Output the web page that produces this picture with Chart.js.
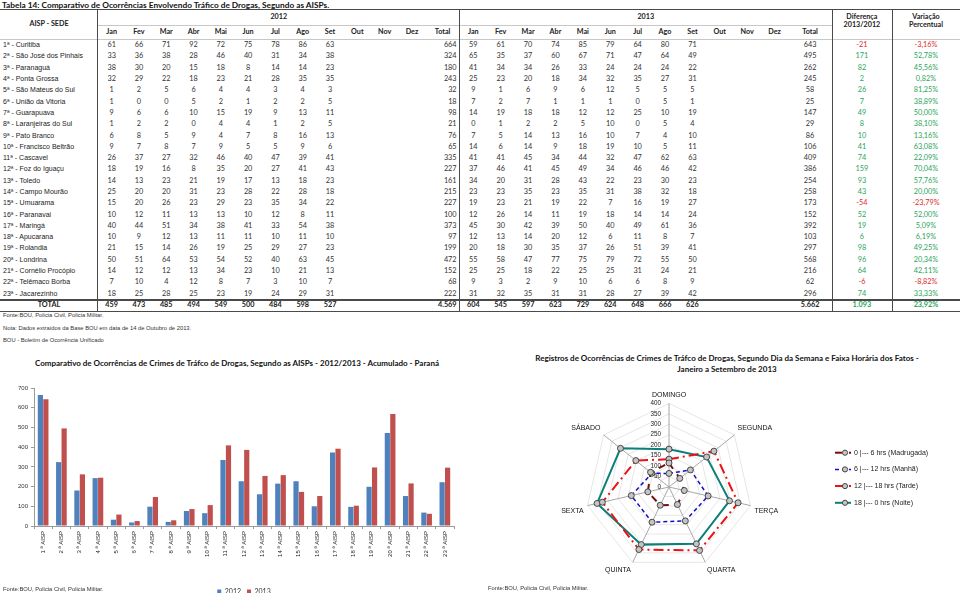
<!DOCTYPE html>
<html>
<head>
<meta charset="utf-8">
<script src="https://cdn.jsdelivr.net/npm/chart.js@4.4.0/dist/chart.umd.min.js"></script>
<style>
  body { margin: 0; width: 960px; height: 593px; overflow: hidden; background: #fff; position: relative; font-family: "Liberation Sans", Arial, sans-serif; color: #222; }
  .abs { position: absolute; }
  .ttl { font-family: Lato, sans-serif; font-weight: bold; font-size: 8px; color: #111; white-space: nowrap; }
  .note { font-size: 5.8px; color: #333; white-space: nowrap; }
  table { position: absolute; left: 0; top: 9px; width: 960px; border-collapse: collapse; table-layout: fixed; }
  td, th { padding: 0; white-space: nowrap; overflow: hidden; text-align: center; font-family: Lato, sans-serif; font-size: 7.3px; color: #333; line-height: 8px; }
  th { font-weight: bold; color: #222; font-size: 7.2px; }
  td.lab { text-align: left; padding-left: 3px; font-family: "Liberation Sans", Arial, sans-serif; font-size: 7px; color: #222; }
  td.r { text-align: right; padding-right: 3px; }
  tr.tot td { font-weight: bold; color: #222; }
  .pos { color: #2aa55c !important; }
  .neg { color: #e02b2b !important; }
  .ln { position: absolute; background: #4a4a4a; }
</style>
</head>
<body>
<div class="abs ttl" style="left:2px;top:0px;font-size:8.3px;">Tabela 14: Comparativo de Ocorrências Envolvendo Tráfico de Drogas, Segundo as AISPs.</div>
<table id="tab"></table>

<div class="abs note" style="left:3px;top:312px;">Fonte:BOU, Policia Civil, Policia Militar.</div>
<div class="abs note" style="left:3px;top:325px;">Nota: Dados extraídos da Base BOU em data de 14 de Outubro de 2013.</div>
<div class="abs note" style="left:3px;top:337px;">BOU - Boletim de Ocorrência Unificado</div>

<div class="abs ttl" style="left:0;width:474px;text-align:center;top:358px;">Comparativo de Ocorrências de Crimes de Tráfco de Drogas, Segundo as AISPs - 2012/2013 - Acumulado - Paraná</div>
<canvas id="bar" class="abs" style="left:0;top:376px;" width="480" height="229"></canvas>
<div class="abs note" style="left:3px;top:586px;">Fonte:BOU, Policia Civil, Policia Militar.</div>

<div class="abs ttl" style="left:480px;width:494px;text-align:center;top:353px;line-height:11px;">Registros de Ocorrências de Crimes de Tráfco de Drogas, Segundo Dia da Semana e Faixa Horária dos Fatos -<br>Janeiro a Setembro de 2013</div>
<canvas id="radar" class="abs" style="left:480px;top:380px;" width="480" height="213"></canvas>
<div class="abs note" style="left:488px;top:585px;">Fonte:BOU, Policia Civil, Policia Militar.</div>

<script>
const aisps = ['1ª - Curitiba', '2ª - São José dos Pinhais', '3ª - Paranaguá', '4ª - Ponta Grossa', '5ª - São Mateus do Sul',
  '6ª - União da Vitoria', '7ª - Guarapuava', '8ª - Laranjeiras do Sul', '9ª - Pato Branco', '10ª - Francisco Beltrão',
  '11ª - Cascavel', '12ª - Foz do Iguaçu', '13ª - Toledo', '14ª - Campo Mourão', '15ª - Umuarama', '16ª - Paranavai',
  '17ª - Maringá', '18ª - Apucarana', '19ª - Rolandia', '20ª - Londrina', '21ª - Cornélio Procópio', '22ª - Telêmaco Borba',
  '23ª - Jacarezinho'];
const meses = ['Jan', 'Fev', 'Mar', 'Abr', 'Mai', 'Jun', 'Jul', 'Ago', 'Set', 'Out', 'Nov', 'Dez'];

const mensal2012 = [
  [61, 66, 71, 92, 72, 75, 78, 86, 63], [33, 36, 38, 28, 46, 40, 31, 34, 38], [38, 30, 20, 15, 18, 8, 14, 14, 23],
  [32, 29, 22, 18, 23, 21, 28, 35, 35], [1, 2, 5, 6, 4, 4, 3, 4, 3], [1, 0, 0, 5, 2, 1, 2, 2, 5],
  [9, 6, 6, 10, 15, 19, 9, 13, 11], [1, 2, 2, 0, 4, 4, 1, 2, 5], [6, 8, 5, 9, 4, 7, 8, 16, 13],
  [9, 7, 8, 7, 9, 5, 5, 9, 6], [26, 37, 27, 32, 46, 40, 47, 39, 41], [18, 19, 16, 8, 35, 20, 27, 41, 43],
  [14, 13, 23, 21, 19, 17, 13, 18, 23], [25, 20, 20, 31, 23, 28, 22, 28, 18], [15, 20, 26, 23, 29, 23, 35, 34, 22],
  [10, 12, 11, 13, 13, 10, 12, 8, 11], [40, 44, 51, 34, 38, 41, 33, 54, 38], [10, 9, 12, 13, 11, 11, 10, 11, 10],
  [21, 15, 14, 26, 19, 25, 29, 27, 23], [50, 51, 64, 53, 54, 52, 40, 63, 45], [14, 12, 12, 13, 34, 23, 10, 21, 13],
  [7, 10, 4, 12, 8, 7, 3, 10, 7], [18, 25, 28, 25, 23, 19, 24, 29, 31]
];
const mensal2013 = [
  [59, 61, 70, 74, 85, 79, 64, 80, 71], [65, 35, 37, 60, 67, 71, 47, 64, 49], [41, 34, 34, 26, 33, 24, 24, 24, 22],
  [25, 23, 20, 18, 34, 32, 35, 27, 31], [9, 1, 6, 9, 6, 12, 5, 5, 5], [7, 2, 7, 1, 1, 1, 0, 5, 1],
  [14, 19, 18, 18, 12, 12, 25, 10, 19], [0, 1, 2, 2, 5, 10, 0, 5, 4], [7, 5, 14, 13, 16, 10, 7, 4, 10],
  [14, 6, 14, 9, 18, 19, 10, 5, 11], [41, 41, 45, 34, 44, 32, 47, 62, 63], [37, 46, 41, 45, 49, 34, 46, 46, 42],
  [34, 20, 31, 28, 43, 22, 23, 30, 23], [23, 23, 35, 23, 35, 31, 38, 32, 18], [19, 23, 21, 19, 22, 7, 16, 19, 27],
  [12, 26, 14, 11, 19, 18, 14, 14, 24], [45, 30, 42, 39, 50, 40, 49, 61, 36], [12, 13, 14, 20, 12, 6, 11, 8, 7],
  [20, 18, 30, 35, 37, 26, 51, 39, 41], [55, 58, 47, 77, 75, 79, 72, 55, 50], [25, 25, 18, 22, 25, 25, 31, 24, 21],
  [9, 3, 2, 9, 10, 6, 6, 8, 9], [31, 32, 35, 31, 31, 28, 27, 39, 42]
];
const total2012 = [664, 324, 180, 243, 32, 18, 98, 21, 76, 65, 335, 227, 161, 215, 227, 100, 373, 97, 199, 472, 152, 68, 222];
const total2013 = [643, 495, 262, 245, 58, 25, 147, 29, 86, 106, 409, 386, 254, 258, 173, 152, 392, 103, 297, 568, 216, 62, 296];
const diferenca = [-21, 171, 82, 2, 26, 7, 49, 8, 10, 41, 74, 159, 93, 43, -54, 52, 19, 6, 98, 96, 64, -6, 74];
const variacao = [-3.16, 52.78, 45.56, 0.82, 81.25, 38.89, 50.00, 38.10, 13.16, 63.08, 22.09, 70.04, 57.76, 20.00, -23.79,
  52.00, 5.09, 6.19, 49.25, 20.34, 42.11, -8.82, 33.33];
const totalMes2012 = [459, 473, 485, 494, 549, 500, 484, 598, 527];
const totalMes2013 = [604, 545, 597, 623, 729, 624, 648, 666, 626];
const totalGeral = [4569, 5662, 1093, 23.92];

const barLabels = ['1 ª AISP', '2 ª AISP', '3 ª AISP', '4 ª AISP', '5 ª AISP', '6 ª AISP', '7 ª AISP', '8 ª AISP',
  '9 ª AISP', '10 ª AISP', '11 ª AISP', '12 ª AISP', '13 ª AISP', '14 ª AISP', '15 ª AISP', '16 ª AISP', '17 ª AISP',
  '18 ª AISP', '19 ª AISP', '20 ª AISP', '21 ª AISP', '22 ª AISP', '23 ª AISP'];

const dias = ['DOMINGO', 'SEGUNDA', 'TERÇA', 'QUARTA', 'QUINTA', 'SEXTA', 'SÁBADO'];
const madrugada = [115, 66, 75, 93, 97, 104, 113];
const manha = [65, 131, 192, 180, 187, 185, 105];
const tarde = [133, 275, 339, 337, 332, 327, 203];
const noite = [181, 230, 297, 302, 306, 353, 297];

// ---- table ----
const fmt = n => n.toLocaleString('pt-BR');
const pct = v => v.toFixed(2).replace('.', ',') + '%';
const cor = v => v < 0 ? 'neg' : 'pos';

let html = '<colgroup><col style="width:98px">';
for (let i = 0; i < 12; i++) html += '<col style="width:27.3px">';
html += '<col style="width:34px">';
for (let i = 0; i < 12; i++) html += '<col style="width:27.4px">';
html += '<col style="width:43.6px"><col style="width:60px"><col style="width:68px"></colgroup>';

html += '<tr style="height:16px"><th rowspan="2">AISP - SEDE</th><th colspan="13">2012</th><th colspan="13">2013</th>' +
  '<th rowspan="2" style="vertical-align:top;padding-top:4px;line-height:7.5px">Diferença<br>2013/2012</th>' +
  '<th rowspan="2" style="vertical-align:top;padding-top:4px;line-height:7.5px">Variação<br>Percentual</th></tr>';
html += '<tr style="height:14.5px">' + meses.map(m => `<th>${m}</th>`).join('') + '<th>Total</th>' +
  meses.map(m => `<th>${m}</th>`).join('') + '<th>Total</th></tr>';

aisps.forEach((nome, i) => {
  let row = `<tr style="height:11.3px"><td class="lab">${nome}</td>`;
  for (let m = 0; m < 12; m++) row += `<td>${m < 9 ? mensal2012[i][m] : ''}</td>`;
  row += `<td class="r">${total2012[i]}</td>`;
  for (let m = 0; m < 12; m++) row += `<td>${m < 9 ? mensal2013[i][m] : ''}</td>`;
  row += `<td>${total2013[i]}</td>`;
  row += `<td class="${cor(diferenca[i])}">${diferenca[i]}</td><td class="${cor(variacao[i])}">${pct(variacao[i])}</td></tr>`;
  html += row;
});

let tot = '<tr class="tot" style="height:11.6px"><td>TOTAL</td>';
for (let m = 0; m < 12; m++) tot += `<td>${m < 9 ? totalMes2012[m] : ''}</td>`;
tot += `<td class="r">${fmt(totalGeral[0])}</td>`;
for (let m = 0; m < 12; m++) tot += `<td>${m < 9 ? totalMes2013[m] : ''}</td>`;
tot += `<td>${fmt(totalGeral[1])}</td><td class="pos">${fmt(totalGeral[2])}</td><td class="pos">${pct(totalGeral[3])}</td></tr>`;
html += tot;
document.getElementById('tab').innerHTML = html;

// table rules
const addLine = (l, t, w, h, c) => {
  const d = document.createElement('div');
  d.className = 'ln';
  d.style.cssText = `left:${l}px;top:${t}px;width:${w}px;height:${h}px;` + (c ? `background:${c};` : '');
  document.body.appendChild(d);
};
addLine(0, 8.5, 960, 1.8);
addLine(98, 25, 734, 0.6, '#c8c8c8');
addLine(0, 39.3, 960, 0.6, '#c8c8c8');
addLine(0, 299.2, 960, 1.8);
addLine(0, 310.6, 960, 1.8);
[97.3, 459.3, 831.6, 891.6].forEach(x => addLine(x, 9, 1.2, 303));

// ---- bar chart ----
new Chart(document.getElementById('bar'), {
  type: 'bar',
  data: {
    labels: barLabels,
    datasets: [
      { label: '2012', data: total2012, backgroundColor: '#4f81bd' },
      { label: '2013', data: total2013, backgroundColor: '#c0504d' }
    ]
  },
  options: {
    responsive: false,
    animation: false,
    layout: { padding: { left: 0, right: 26, top: 12, bottom: 0 } },
    datasets: { bar: { categoryPercentage: 0.6, barPercentage: 0.95 } },
    plugins: {
      legend: {
        position: 'bottom',
        fullSize: false,
        labels: { boxWidth: 4, boxHeight: 4, padding: 6, color: '#333', font: { family: 'Lato', size: 7 } }
      },
      tooltip: { enabled: false }
    },
    scales: {
      x: {
        grid: { drawOnChartArea: false, tickLength: 3, color: '#9a9a9a' },
        border: { color: '#9a9a9a' },
        ticks: { minRotation: 90, maxRotation: 90, padding: 2, color: '#222', font: { family: 'Liberation Sans', size: 6 } },
        afterFit: axis => { axis.height = 56; }
      },
      y: {
        min: 0,
        max: 700,
        ticks: { stepSize: 100, padding: 3, color: '#333', font: { family: 'Liberation Sans', size: 6 } },
        grid: { drawOnChartArea: false, tickLength: 3, color: '#9a9a9a' },
        border: { color: '#9a9a9a' },
        afterFit: axis => { axis.width = 34; }
      }
    }
  }
});

// ---- radar chart ----
const radarTicks = {
  id: 'radarTicks',
  beforeDatasetsDraw(chart) {
    const s = chart.scales.r;
    const ctx = chart.ctx;
    ctx.save();
    ctx.font = '6.3px "Liberation Sans", Arial';
    ctx.fillStyle = '#222';
    ctx.textAlign = 'right';
    ctx.textBaseline = 'middle';
    s.ticks.forEach(t => {
      ctx.fillText(t.label, s.xCenter - 8, s.yCenter - s.getDistanceFromCenterForValue(t.value));
    });
    ctx.restore();
  }
};

const radarLegend = {
  id: 'radarLegend',
  afterDraw(chart) {
    const ctx = chart.ctx;
    ctx.save();
    chart.data.datasets.forEach((ds, i) => {
      const y = 72.7 + i * 16.7;
      ctx.strokeStyle = ds.borderColor;
      ctx.lineWidth = ds.borderWidth;
      ctx.setLineDash(ds.borderDash || []);
      ctx.beginPath();
      ctx.moveTo(355, y);
      ctx.lineTo(371, y);
      ctx.stroke();
      ctx.setLineDash([]);
      ctx.beginPath();
      ctx.arc(365, y, 2.6, 0, Math.PI * 2);
      ctx.fillStyle = ds.pointBackgroundColor;
      ctx.fill();
      ctx.lineWidth = 0.9;
      ctx.strokeStyle = ds.pointBorderColor;
      ctx.stroke();
      ctx.fillStyle = '#222';
      ctx.font = '7px "Liberation Sans", Arial';
      ctx.textBaseline = 'middle';
      ctx.fillText(ds.label, 374, y);
    });
    ctx.restore();
  }
};

const pt = { pointRadius: 3, pointBorderWidth: 0.9, pointBackgroundColor: '#c4c4c4', pointBorderColor: '#3a3a3a', fill: false, tension: 0 };

new Chart(document.getElementById('radar'), {
  type: 'radar',
  data: {
    labels: dias,
    datasets: [
      { label: '0 |--- 6 hrs (Madrugada)', data: madrugada, borderColor: '#7a0c0c', borderWidth: 2, borderDash: [7, 7], ...pt },
      { label: '6 |--- 12 hrs (Manhã)', data: manha, borderColor: '#1010c8', borderWidth: 1.5, borderDash: [4, 3], ...pt },
      { label: '12 |--- 18 hrs (Tarde)', data: tarde, borderColor: '#ee1111', borderWidth: 2, borderDash: [10, 4, 2, 4], ...pt },
      { label: '18 |--- 0 hrs (Noite)', data: noite, borderColor: '#0b7f78', borderWidth: 2, ...pt }
    ]
  },
  options: {
    responsive: false,
    animation: false,
    layout: { padding: { left: 64, right: 166, top: 7, bottom: 14 } },
    plugins: { legend: { display: false }, tooltip: { enabled: false } },
    scales: {
      r: {
        min: 0,
        max: 400,
        ticks: { stepSize: 50, display: false },
        grid: { circular: false, color: '#e6e6e6' },
        angleLines: { color: '#a8a8a8' },
        pointLabels: { padding: 4, color: '#111', font: { family: 'Liberation Sans', size: 7 } }
      }
    }
  },
  plugins: [radarTicks, radarLegend]
});
</script>
</body>
</html>
